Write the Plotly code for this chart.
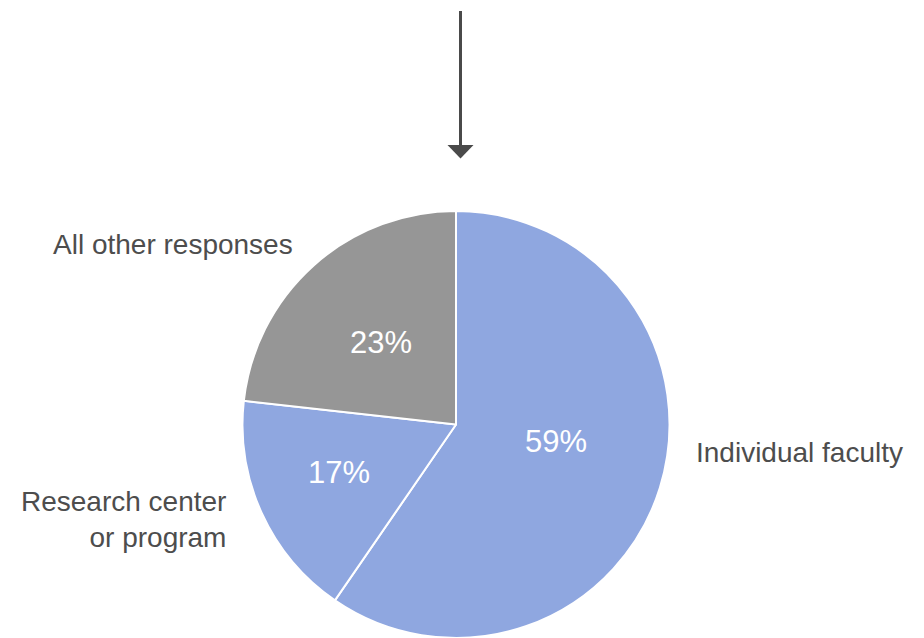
import plotly.graph_objects as go

W, H = 924, 638

# Share of responses, clockwise from 12 o'clock
categories = ["Individual faculty", "Research center or program", "All other responses"]
shares = [59, 17, 23]
slice_colors = ["#8FA7E0", "#8FA7E0", "#969696"]

TEXT = "#4d4d4d"
FONT = "Liberation Sans, Arial, Helvetica, sans-serif"

# pie geometry (pixels): centre and radius
cx, r = 456, 213.5

fig = go.Figure(
    go.Pie(
        labels=categories,
        values=shares,
        sort=False,
        direction="clockwise",
        rotation=0,
        marker=dict(colors=slice_colors, line=dict(color="white", width=2)),
        textinfo="none",
        hoverinfo="label+value",
        showlegend=False,
        domain=dict(x=[(cx - r) / W, (cx + r) / W], y=[0, 2 * r / H]),
    )
)


def px(x):
    return x / W


def py(y):
    return 1 - y / H


# downward arrow above the pie
fig.add_shape(type="line", xref="paper", yref="paper",
              x0=px(460.5), x1=px(460.5), y0=py(11), y1=py(147),
              line=dict(color="#4a4a4a", width=3))
fig.add_shape(type="path", xref="paper", yref="paper",
              path=f"M {px(447.5)} {py(145)} L {px(473.5)} {py(145)} L {px(460.5)} {py(158.5)} Z",
              fillcolor="#4a4a4a", line=dict(width=0))

# percentage labels inside the slices
pct_anchor = [(556, 442), (339, 472), (381, 342)]
pct_font = dict(family=FONT, size=31, color="white")
for v, (x, y) in zip(shares, pct_anchor):
    fig.add_annotation(text=f"{v}%", x=px(x), y=py(y), xref="paper", yref="paper",
                       xanchor="center", yanchor="middle", showarrow=False, font=pct_font)

# category labels around the pie
label_font = dict(family=FONT, size=28, color=TEXT)
fig.add_annotation(text="All other responses", x=px(51), y=py(244), xref="paper", yref="paper",
                   xanchor="left", yanchor="middle", showarrow=False, font=label_font)
fig.add_annotation(text="Individual faculty", x=px(694), y=py(452), xref="paper", yref="paper",
                   xanchor="left", yanchor="middle", showarrow=False, font=label_font)
fig.add_annotation(text="Research center<br>or program", x=px(228), y=py(519), xref="paper", yref="paper",
                   xanchor="right", yanchor="middle", align="right", showarrow=False, font=label_font)

fig.update_layout(
    width=W, height=H,
    margin=dict(l=0, r=0, t=0, b=0),
    paper_bgcolor="white",
    plot_bgcolor="white",
)

fig.write_html("out.html")
